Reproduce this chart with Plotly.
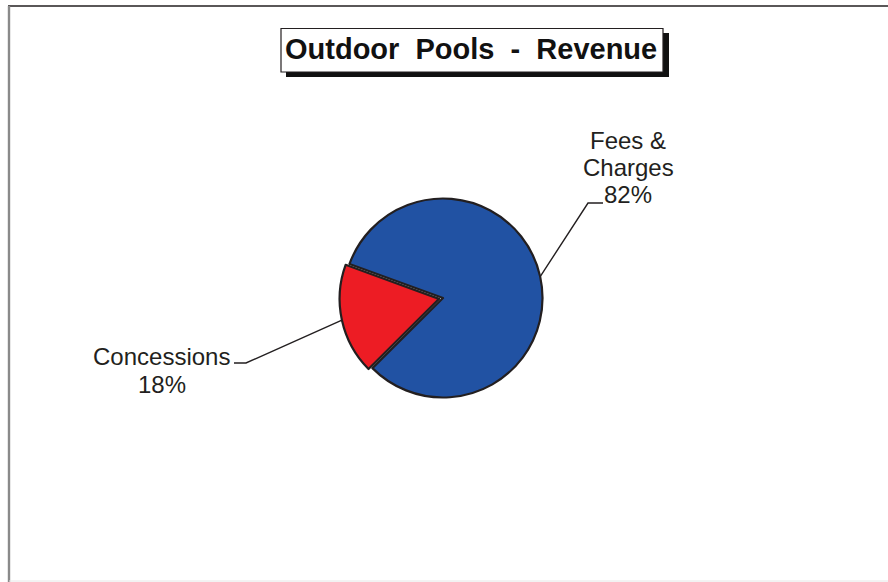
import math
import plotly.graph_objects as go

# ---- data ----
categories = ["Fees &\nCharges", "Concessions"]
values = [82, 18]
slice_colors = ["#2152A3", "#ED1C24"]
pulls = [0.0, 0.04]
title_text = "Outdoor Pools - Revenue"

# ---- canvas / layout geometry (pixels) ----
W, H = 888, 582
CX, CY, RADIUS = 443, 298, 99.5      # pie centre and radius
ROTATION = -70                       # start of first slice, clockwise from 12 o'clock
INK = "#231F20"
FONT = "Liberation Sans, Arial, sans-serif"
LABEL_SIZE = 24
LINE_GAP = 27.5

# label placement: text centre x, first-line y, elbow point of the leader
label_layout = [
    {"x": 628, "y": 140, "elbow": (588, 203), "end": (603, 203)},
    {"x": 161.5, "y": 356.5, "elbow": (246, 363), "end": (234, 363)},
]


def px(x):
    return x / W


def py(y):
    return 1 - y / H


total = sum(values)
shares = [v / total for v in values]

# radius of the domain box so that the pulled slice still fits
R_dom = RADIUS * (1 + max(pulls))

fig = go.Figure(
    go.Pie(
        labels=[c.replace("\n", " ") for c in categories],
        values=values,
        sort=False,
        direction="clockwise",
        rotation=ROTATION,
        pull=pulls,
        marker=dict(colors=slice_colors, line=dict(color=INK, width=2.2)),
        textinfo="none",
        hoverinfo="label+percent",
        showlegend=False,
        domain=dict(
            x=[px(CX - R_dom), px(CX + R_dom)],
            y=[py(CY + R_dom), py(CY - R_dom)],
        ),
    )
)

shapes = []
annotations = []

# leader lines and labels, anchored at each slice's mid angle
start = ROTATION
for cat, share, pull, lay in zip(categories, shares, pulls, label_layout):
    sweep = share * 360
    mid = math.radians(start + sweep / 2)
    start += sweep
    # clock angle -> screen offsets
    dx, dy = math.sin(mid), -math.cos(mid)
    ox, oy = CX + dx * RADIUS * pull, CY + dy * RADIUS * pull
    ex, ey = ox + dx * RADIUS, oy + dy * RADIUS
    (bx, by), (tx, ty) = lay["elbow"], lay["end"]
    shapes.append(dict(
        type="path", xref="paper", yref="paper",
        path=f"M {px(ex)},{py(ey)} L {px(bx)},{py(by)} L {px(tx)},{py(ty)}",
        line=dict(color=INK, width=1.4),
    ))
    lines = cat.split("\n") + [f"{round(share * 100)}%"]
    for i, text in enumerate(lines):
        annotations.append(dict(
            x=px(lay["x"]), y=py(lay["y"] + i * LINE_GAP),
            xref="paper", yref="paper", xanchor="center", yanchor="middle",
            text=text, showarrow=False,
            font=dict(family=FONT, size=LABEL_SIZE, color=INK),
        ))

# outer frame: dark top rule, grey left rule, faint bottom rule
shapes += [
    dict(type="line", xref="paper", yref="paper",
         x0=px(8), x1=px(888), y0=py(6), y1=py(6),
         line=dict(color=INK, width=1.6)),
    dict(type="line", xref="paper", yref="paper",
         x0=px(9), x1=px(9), y0=py(6), y1=py(582),
         line=dict(color="#8A8A8A", width=2.4)),
    dict(type="line", xref="paper", yref="paper",
         x0=px(9), x1=px(888), y0=py(581), y1=py(581),
         line=dict(color="#E6E6E6", width=1)),
]

# title box with drop shadow
shapes += [
    dict(type="rect", xref="paper", yref="paper",
         x0=px(286), x1=px(669), y0=py(77), y1=py(33),
         fillcolor="#111111", line=dict(width=0)),
    dict(type="rect", xref="paper", yref="paper",
         x0=px(281), x1=px(663), y0=py(72), y1=py(28.5),
         fillcolor="white", line=dict(color=INK, width=1.2)),
]
# wider word gaps in the heading
title_spaced = title_text.replace(" ", "\u00a0 ")
annotations.append(dict(
    x=px(471), y=py(49), xref="paper", yref="paper",
    xanchor="center", yanchor="middle", showarrow=False,
    text=f"<b>{title_spaced}</b>",
    font=dict(family=FONT, size=29, color="#111111"),
))

fig.update_layout(
    width=W, height=H,
    margin=dict(l=0, r=0, t=0, b=0),
    paper_bgcolor="white", plot_bgcolor="white",
    shapes=shapes, annotations=annotations,
)

fig.write_html("out.html")
